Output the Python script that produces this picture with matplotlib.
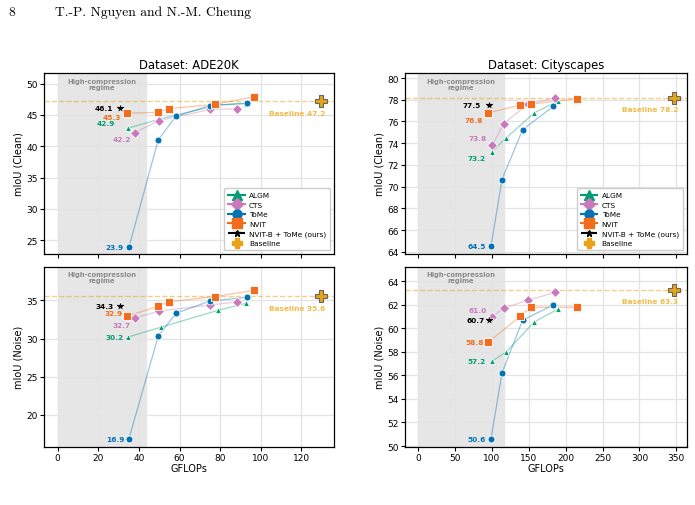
import numpy as np
import matplotlib
matplotlib.use('Agg')
import matplotlib.pyplot as plt

# ---------------- data ----------------
methods = ['ALGM', 'CTS', 'ToMe', 'NViT']
colors = {'ALGM': '#029e73', 'CTS': '#cc78bc', 'ToMe': '#0173b2', 'NViT': '#f26c1c'}
markers = {'ALGM': '^', 'CTS': 'D', 'ToMe': 'o', 'NViT': 's'}
msizes = {'ALGM': 4, 'CTS': 5.5, 'ToMe': 5, 'NViT': 5.5}

# ADE20K
ade_gflops = {'ALGM': [34.6, 51.0, 79.0, 92.5],
              'CTS':  [38.0, 50.0, 75.2, 88.5],
              'ToMe': [35.1, 49.5, 58.2, 74.9, 93.0],
              'NViT': [33.9, 49.2, 54.6, 77.4, 96.5]}
ade_clean = {'ALGM': [42.9, 44.4, 46.6, 46.8],
             'CTS':  [42.2, 44.1, 45.9, 46.0],
             'ToMe': [23.9, 41.0, 44.8, 46.5, 46.9],
             'NViT': [45.3, 45.4, 46.0, 46.7, 47.9]}
ade_noise = {'ALGM': [30.2, 31.5, 33.7, 34.6],
             'CTS':  [32.7, 33.6, 34.4, 34.8],
             'ToMe': [16.9, 30.3, 33.3, 34.9, 35.4],
             'NViT': [32.9, 34.2, 34.8, 35.5, 36.3]}
ade_ours_gflops = 30.8
ade_ours = [46.1, 34.3]
ade_base_gflops = 129.5
ade_base = [47.2, 35.6]

# Cityscapes
city_gflops = {'ALGM': [99.8, 119.7, 157.5, 190.0],
               'CTS':  [100.7, 116.0, 149.0, 185.8],
               'ToMe': [98.9, 113.8, 141.8, 183.6],
               'NViT': [94.9, 138.7, 153.1, 215.2]}
city_clean = {'ALGM': [73.2, 74.5, 76.8, 77.9],
              'CTS':  [73.8, 75.8, 77.6, 78.15],
              'ToMe': [64.5, 70.65, 75.25, 77.4],
              'NViT': [76.8, 77.5, 77.6, 78.1]}
city_noise = {'ALGM': [57.2, 58.0, 60.55, 61.65],
              'CTS':  [61.0, 61.7, 62.4, 63.05],
              'ToMe': [50.6, 56.2, 60.7, 62.0],
              'NViT': [58.8, 61.05, 61.8, 61.8]}
city_ours_gflops = 95.8
city_ours = [77.5, 60.7]
city_base_gflops = 347.0
city_base = [78.2, 63.3]

# label offsets (points) for the first point of each series: [clean, noise]
ade_offsets = {'ALGM': [(-9, 3.5), (-3, 0)], 'CTS': [(-3, -5), (-3, -5)],
               'ToMe': [(-4, 0), (-3, 0)], 'NViT': [(-4, -2.5), (-3, 2.5)],
               'ours': [(-5, 0), (-5, 0)]}
city_offsets = {'ALGM': [(-4, -4.5), (-4, 0)], 'CTS': [(-4, 5.5), (-4, 5)],
                'ToMe': [(-4, 0), (-4, 0)], 'NViT': [(-4, -5.5), (-3, 0)],
                'ours': [(-6, 0), (-3, 0)]}

plt.rcParams['font.family'] = 'DejaVu Sans'
plt.rcParams['axes.axisbelow'] = True

fig = plt.figure(figsize=(6.95, 5.06), dpi=100)

base_color = '#e8a317'
base_text = '#f2bb45'
lab_size = 5.3


def draw_panel(ax, gflops, vals, ours_x, ours_y, base_x, base_y, offsets, idx, span, legend):
    ax.axvspan(0, span, color='#e6e6e6', zorder=0)
    ax.grid(True, color='#e3e3e3', linewidth=0.9)
    for m in methods:
        ax.plot(gflops[m], vals[m], color=colors[m], alpha=0.4, linewidth=0.9, zorder=2)
        ax.plot(gflops[m], vals[m], linestyle='none', marker=markers[m], markersize=msizes[m],
                color=colors[m], markeredgecolor='white', markeredgewidth=0.6, zorder=3)
        ax.annotate('%.1f' % vals[m][0], (gflops[m][0], vals[m][0]), xytext=offsets[m][idx],
                    textcoords='offset points', ha='right', va='center', fontsize=lab_size,
                    fontweight='bold', color=colors[m])
        # proxy for legend
        ax.plot([], [], color=colors[m], marker=markers[m], markersize=6.5, label=m)
    ax.plot([ours_x], [ours_y], marker='*', color='black', markersize=7,
            markeredgecolor='white', markeredgewidth=0.5, linestyle='none', zorder=4)
    ax.plot([], [], color='black', marker='*', markersize=5, linestyle='--', label='NViT-B + ToMe (ours)')
    ax.annotate('%.1f' % ours_y, (ours_x, ours_y), xytext=offsets['ours'][idx], textcoords='offset points',
                ha='right', va='center', fontsize=lab_size, fontweight='bold', color='black')
    ax.axhline(base_y, color=base_color, alpha=0.5, linestyle='--', linewidth=1, zorder=1)
    ax.plot([base_x], [base_y], marker='P', markersize=8, color=base_color, markeredgecolor='#666666',
            markeredgewidth=0.8, linestyle='none', zorder=4)
    ax.plot([], [], marker='P', markersize=7.5, color=base_color, linestyle='none', label='Baseline')
    ax.annotate('Baseline %.1f' % base_y, (base_x, base_y), xytext=(3, -8.5), textcoords='offset points',
                ha='right', va='center', fontsize=lab_size, fontweight='bold', color=base_text)
    ax.text(span / 2, 0.975, 'High-compression\nregime', transform=ax.get_xaxis_transform(),
            ha='center', va='top', fontsize=4.9, fontweight='bold', color='#8c8c8c', linespacing=1.0)
    ax.tick_params(labelsize=6.5, length=3, width=0.8, pad=1.5)
    for s in ax.spines.values():
        s.set_color('black')
        s.set_linewidth(0.9)
    if legend:
        ax.legend(loc='lower right', fontsize=5.3, handlelength=2.2, labelspacing=0.45,
                  borderpad=0.55, handletextpad=0.6, framealpha=1, edgecolor='#cccccc', fancybox=True)


# left column: ADE20K, right column: Cityscapes
ax1 = fig.add_axes([0.0633, 0.496, 0.4173, 0.3577])
ax2 = fig.add_axes([0.0633, 0.1152, 0.4173, 0.3557])
ax3 = fig.add_axes([0.5827, 0.496, 0.4053, 0.3577])
ax4 = fig.add_axes([0.5827, 0.1152, 0.4053, 0.3557])

draw_panel(ax1, ade_gflops, ade_clean, ade_ours_gflops, ade_ours[0], ade_base_gflops, ade_base[0],
           ade_offsets, 0, 43.3, True)
draw_panel(ax2, ade_gflops, ade_noise, ade_ours_gflops, ade_ours[1], ade_base_gflops, ade_base[1],
           ade_offsets, 1, 43.3, False)
draw_panel(ax3, city_gflops, city_clean, city_ours_gflops, city_ours[0], city_base_gflops, city_base[0],
           city_offsets, 0, 116, True)
draw_panel(ax4, city_gflops, city_noise, city_ours_gflops, city_ours[1], city_base_gflops, city_base[1],
           city_offsets, 1, 116, False)

for ax in (ax1, ax2):
    ax.set_xlim(-6.7, 136)
    ax.set_xticks([0, 20, 40, 60, 80, 100, 120])
for ax in (ax3, ax4):
    ax.set_xlim(-17.6, 364)
    ax.set_xticks([0, 50, 100, 150, 200, 250, 300, 350])

ax1.set_ylim(22.8, 51.7)
ax1.set_yticks([25, 30, 35, 40, 45, 50])
ax2.set_ylim(15.85, 39.4)
ax2.set_yticks([20, 25, 30, 35])
ax3.set_ylim(63.8, 80.46)
ax3.set_yticks(np.arange(64, 81, 2))
ax4.set_ylim(49.94, 65.24)
ax4.set_yticks(np.arange(50, 65, 2))

for ax in (ax1, ax3):
    ax.tick_params(labelbottom=False)
for ax in (ax2, ax4):
    ax.set_xlabel('GFLOPs', fontsize=7, labelpad=0.5)

ax1.set_title('Dataset: ADE20K', fontsize=8.4, pad=3.5)
ax3.set_title('Dataset: Cityscapes', fontsize=8.4, pad=3.5)
for ax, lab in ((ax1, 'mIoU (Clean)'), (ax2, 'mIoU (Noise)'), (ax3, 'mIoU (Clean)'), (ax4, 'mIoU (Noise)')):
    ax.set_ylabel(lab, fontsize=7, labelpad=2)

# page header
fig.text(8 / 695, 1 - 13 / 506, '8', fontfamily='cmr10', fontsize=9.8, va='center', ha='left')
fig.text(55 / 695, 1 - 13 / 506, 'T.-P. Nguyen and N.-M. Cheung', fontfamily='cmr10', fontsize=9.8,
         va='center', ha='left')

fig.savefig('out.png', dpi=100)
